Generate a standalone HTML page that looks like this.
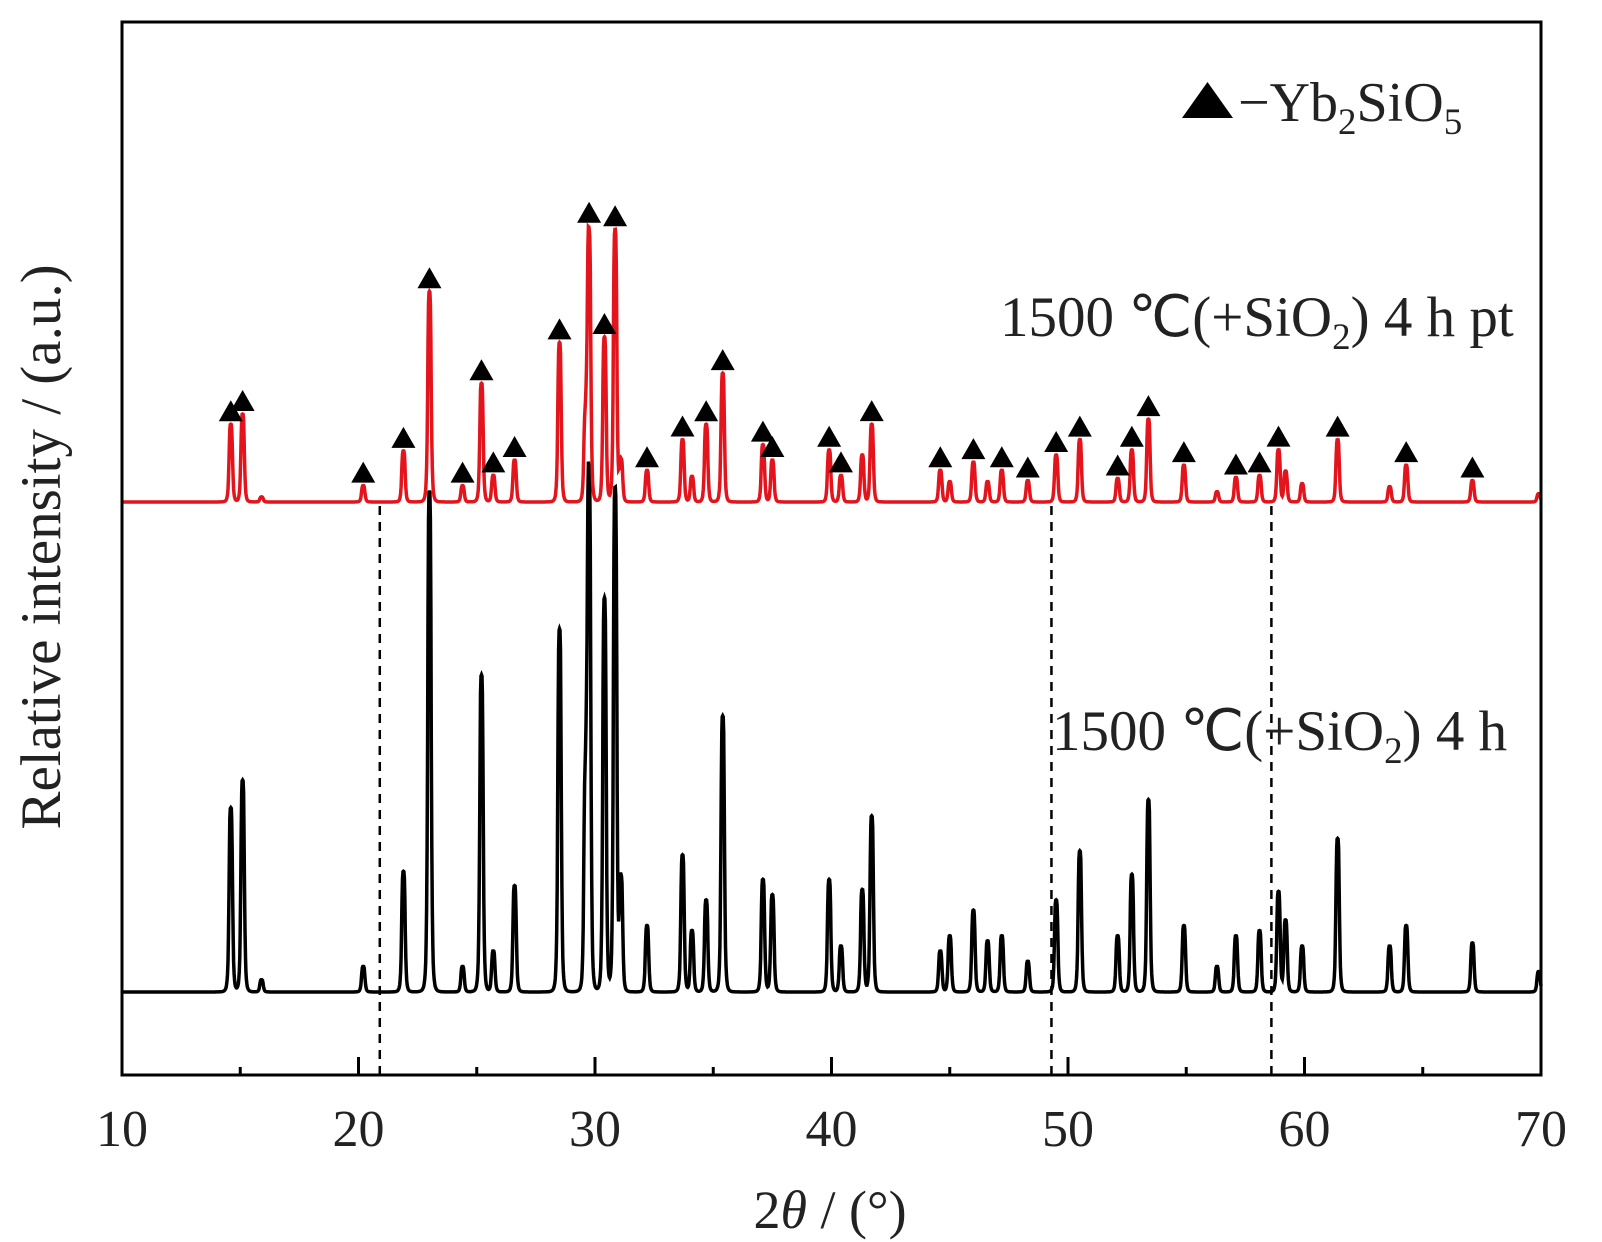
<!DOCTYPE html>
<html><head><meta charset="utf-8"><style>
html,body{margin:0;padding:0;background:#fff;}
svg{display:block;font-family:"Liberation Serif",serif;}
</style></head><body>
<svg id="c" width="1602" height="1242" viewBox="0 0 1602 1242" xmlns="http://www.w3.org/2000/svg">
<rect x="0" y="0" width="1602" height="1242" fill="#fff"/>
<g id="series"></g>
<g id="axes"></g>
<text x="1000" y="336" font-size="57" fill="#222">1500 ℃(+SiO<tspan font-size="37" dy="13">2</tspan><tspan dy="-13">) 4 h pt</tspan></text>
<text x="1052" y="750" font-size="57" fill="#222">1500 ℃(+SiO<tspan font-size="37" dy="13">2</tspan><tspan dy="-13">) 4 h</tspan></text>
<polygon points="1182,118 1233,118 1207.5,82" fill="#000"/>
<text x="1238" y="121" font-size="56" fill="#222">−Yb<tspan font-size="37" dy="13">2</tspan><tspan dy="-13">SiO</tspan><tspan font-size="37" dy="13">5</tspan></text>
<text x="830" y="1228" font-size="54" fill="#222" text-anchor="middle">2<tspan font-style="italic">θ</tspan> / (°)</text>
<text transform="translate(60,547) rotate(-90)" font-size="57" fill="#222" text-anchor="middle">Relative intensity / (a.u.)</text>
</svg>
<script>
const peakPos = [14.6,15.1,15.9,20.2,21.9,23.0,24.4,25.2,25.7,26.6,28.5,29.6,29.75,30.4,30.85,31.1,32.2,33.7,34.1,34.7,35.4,37.1,37.5,39.9,40.4,41.3,41.7,44.6,45.0,46.0,46.6,47.2,48.3,49.5,50.5,52.1,52.7,53.4,54.9,56.3,57.1,58.1,58.9,59.2,59.9,61.4,63.6,64.3,67.1,69.9];
const blackVals = [180,207,12,25,118,490,25,310,40,104,355,200,495,385,492,110,65,134,60,90,270,110,95,110,45,100,172,40,55,80,50,55,30,90,138,55,115,188,65,25,55,60,98,70,45,150,45,65,48,20];
const redVals = [76,86,5,16,50,206,16,116,26,41,156,80,261,161,266,40,31,61,25,76,126,56,41,51,26,46,76,31,20,39,20,31,21,46,61,23,51,81,36,10,24,26,51,30,18,61,15,36,21,8];
const markerPos = [14.6,15.1,20.2,21.9,23.0,24.4,25.2,25.7,26.6,28.5,29.75,30.4,30.85,32.2,33.7,34.7,35.4,37.1,37.5,39.9,40.4,41.7,44.6,46.0,47.2,48.3,49.5,50.5,52.1,52.7,53.4,54.9,57.1,58.1,58.9,61.4,64.3,67.1];
const xTicks = [10,20,30,40,50,60,70];
const dashPos = [20.9,49.3,58.6];

const NS="http://www.w3.org/2000/svg";
const X0=122,X1=1541,Y0=22,Y1=1075;
const xs=v=>X0+(v-10)*(X1-X0)/60;
const yB=v=>992-v*1.023;
const yR=v=>502-v*1.023;
function prof(vals,x){let s=0;for(let i=0;i<peakPos.length;i++){const d=(x-peakPos[i])/0.08;s+=vals[i]/(1+d*d*d*d);}return s;}
function mk(t,a){const e=document.createElementNS(NS,t);for(const k in a)e.setAttribute(k,a[k]);return e;}
const ser=document.getElementById('series'),ax=document.getElementById('axes');
function drawLine(vals,yf,col,name){let d='';for(let x=10;x<=70.0001;x+=0.02){d+=(d?'L':'M')+xs(x).toFixed(1)+','+yf(prof(vals,x)).toFixed(1);}
const p=mk('path',{d:d,fill:'none',stroke:col,'stroke-width':3.5,'stroke-linejoin':'miter'});


ser.appendChild(p);}
dashPos.forEach(v=>{const l=mk('line',{x1:xs(v),x2:xs(v),y1:yR(0)+4,y2:Y1,stroke:'#000','stroke-width':2.5,'stroke-dasharray':'9,7'});


ser.appendChild(l);});
drawLine(blackVals,yB,'#000','series-1500c-4h');
drawLine(redVals,yR,'#e3141c','series-1500c-4h-pt');
markerPos.forEach(m=>{let mx=0;for(let x=m-0.15;x<=m+0.15;x+=0.01)mx=Math.max(mx,prof(redVals,x));
const cx=xs(m),by=yR(mx)-3;
const t=mk('polygon',{points:(cx-12)+','+by+' '+(cx+12)+','+by+' '+cx+','+(by-21),fill:'#000'});


ser.appendChild(t);});
const fr=mk('rect',{x:X0,y:Y0,width:X1-X0,height:Y1-Y0,fill:'none',stroke:'#000','stroke-width':3});


ax.appendChild(fr);
xTicks.forEach(v=>{const t=mk('line',{x1:xs(v),x2:xs(v),y1:Y1,y2:Y1-18,stroke:'#000','stroke-width':3});


ax.appendChild(t);
if(v<70){const m=mk('line',{x1:xs(v+5),x2:xs(v+5),y1:Y1,y2:Y1-8,stroke:'#000','stroke-width':3});


ax.appendChild(m);}
const lb=mk('text',{x:xs(v),y:1146,'font-size':52,'text-anchor':'middle',fill:'#222'});
lb.textContent=v;


ax.appendChild(lb);});
</script>
</body></html>
